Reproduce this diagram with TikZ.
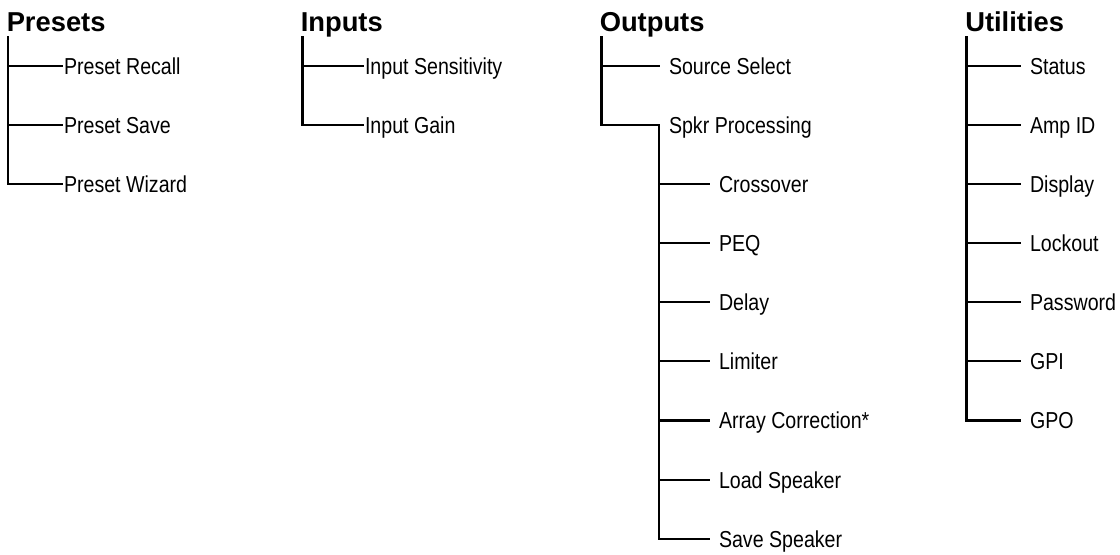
\documentclass[tikz,border=0pt]{standalone}
\usepackage{fontspec}
\newfontfamily\bodyfont{Liberation Sans}[FakeStretch=0.85]
\newfontfamily\headfont{Liberation Sans}
\begin{document}
\begin{tikzpicture}[x=0.75pt,y=-0.75pt,
  item/.style={anchor=west, inner sep=0pt, outer ysep=0pt, outer xsep=#1,
    text height=12.4pt, text depth=0pt,
    font=\bodyfont\fontsize{17.3pt}{20pt}\selectfont},
  item/.default=7.5pt,
  head/.style={anchor=base west, inner sep=0pt,
    font=\headfont\bfseries\fontsize{20.5pt}{24pt}\selectfont},
  tree/.style={line width=1.7pt, line join=miter, line cap=rect}]
\useasboundingbox (0,0) rectangle (1120,555);

% ---------- Presets ----------
\node[head] (Presets) at (6.5,32) {Presets};
\coordinate (pT) at (8,37);
\node[item=1.5pt] (pr1) at (62,66)  {Preset Recall};
\node[item=1.5pt] (pr2) at (62,125) {Preset Save};
\node[item=1.5pt] (pr3) at (62,184) {Preset Wizard};
\draw[tree] (pT) |- (pr3.west);
\draw[tree] (pT |- pr1.west) -- (pr1.west);
\draw[tree] (pT |- pr2.west) -- (pr2.west);

% ---------- Inputs ----------
\node[head] (Inputs) at (300.5,32) {Inputs};
\coordinate (iT) at (302.5,37);
\node[item=1.5pt] (in1) at (363,66)  {Input Sensitivity};
\node[item=1.5pt] (in2) at (363,125) {Input Gain};
\draw[tree] (iT) |- (in2.west);
\draw[tree] (iT |- in1.west) -- (in1.west);

% ---------- Outputs ----------
\node[head] (Outputs) at (599.5,32) {Outputs};
\coordinate (oT) at (601.5,37);
\node[item] (o1) at (659,66)  {Source Select};
\node[item] (o2) at (659,125) {Spkr Processing};
\draw[tree] (oT) |- (o2.west);
\draw[tree] (oT |- o1.west) -- (o1.west);

\node[item] (s1) at (709,184) {Crossover};
\node[item] (s2) at (709,243) {PEQ};
\node[item] (s3) at (709,302) {Delay};
\node[item] (s4) at (709,361) {Limiter};
\node[item] (s5) at (709,420.5) {Array Correction*};
\node[item] (s6) at (709,480) {Load Speaker};
\node[item] (s7) at (709,539) {Save Speaker};
\draw[tree] (o2.west) |- (s7.west);
\foreach \n in {s1,s2,s3,s4,s5,s6}
  \draw[tree] (o2.west |- \n.west) -- (\n.west);

% ---------- Utilities ----------
\node[head] (Utilities) at (965,32) {Utilities};
\coordinate (uT) at (966.5,37);
\node[item] (u1) at (1020,66)  {Status};
\node[item] (u2) at (1020,125) {Amp ID};
\node[item] (u3) at (1020,184) {Display};
\node[item] (u4) at (1020,243) {Lockout};
\node[item] (u5) at (1020,302) {Password};
\node[item] (u6) at (1020,361) {GPI};
\node[item] (u7) at (1020,420.5) {GPO};
\draw[tree] (uT) |- (u7.west);
\foreach \n in {u1,u2,u3,u4,u5,u6}
  \draw[tree] (uT |- \n.west) -- (\n.west);
\end{tikzpicture}
\end{document}
